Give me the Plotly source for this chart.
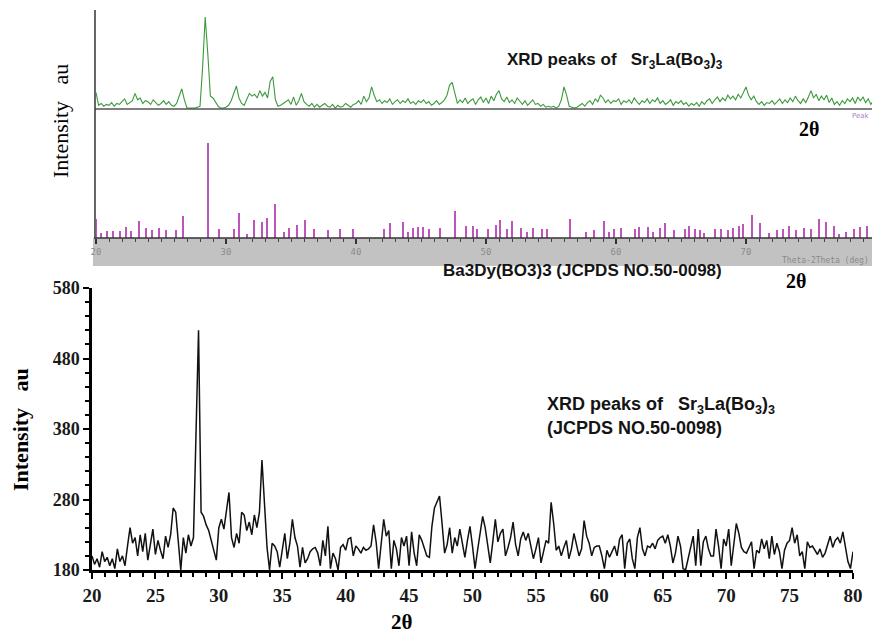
import numpy as np
import plotly.graph_objects as go

# page offset of the plot inside the browser page (default body margin)
OFF = 8
W, H = 880 - OFF, 634 - OFF

# ---------------- data ----------------
# bottom panel: measured XRD pattern (2theta step 0.2 deg)
two_theta = [round(20 + 0.2 * i, 1) for i in range(301)]
intensity = [
    200, 188, 196, 184, 206,
    192, 198, 186, 196, 182,
    210, 192, 200, 186, 214,
    240, 218, 226, 200, 230,
    206, 232, 194, 214, 238,
    202, 222, 208, 196, 228,
    212, 230, 268, 262, 216,
    180, 226, 204, 230, 214,
    226, 360, 520, 262, 256,
    244, 236, 222, 206, 194,
    240, 252, 238, 262, 290,
    226, 212, 232, 218, 262,
    258, 236, 248, 230, 258,
    240, 262, 336, 264, 212,
    180, 218, 214, 206, 184,
    210, 232, 196, 218, 252,
    226, 214, 184, 212, 190,
    196, 206, 210, 212, 204,
    186, 222, 200, 242, 182,
    204, 196, 180, 212, 216,
    208, 224, 226, 200, 214,
    210, 204, 212, 208, 210,
    214, 244, 220, 182, 218,
    252, 228, 236, 182, 222,
    210, 186, 226, 214, 228,
    186, 234, 204, 186, 230,
    222, 212, 200, 198, 242,
    268, 278, 285, 246, 204,
    216, 240, 204, 226, 214,
    238, 218, 198, 222, 242,
    214, 182, 208, 232, 256,
    240, 212, 190, 220, 252,
    220, 232, 238, 200, 212,
    226, 248, 216, 200, 224,
    234, 222, 232, 214, 196,
    210, 226, 190, 206, 222,
    218, 276, 246, 208, 214,
    200, 212, 222, 196, 210,
    232, 216, 200, 210, 250,
    228, 218, 200, 212, 214,
    214, 200, 182, 208, 198,
    206, 214, 200, 224, 230,
    182, 218, 224, 196, 182,
    226, 240, 210, 200, 214,
    212, 218, 210, 222, 226,
    228, 218, 230, 214, 190,
    204, 228, 214, 182, 180,
    196, 214, 228, 186, 238,
    186, 220, 228, 210, 200,
    200, 238, 214, 182, 224,
    214, 238, 186, 220, 246,
    232, 212, 206, 204, 212,
    220, 182, 208, 204, 224,
    210, 222, 196, 228, 202,
    218, 206, 182, 208, 218,
    222, 240, 218, 230, 200,
    206, 182, 220, 212, 214,
    208, 202, 210, 198, 204,
    216, 228, 212, 222, 226,
    218, 234, 210, 192, 182,
    206,
]

# top panel: software peak profile (relative units)
green_theta = [round(20 + 0.2 * i, 1) for i in range(301)]
green_int = [
    18, 4, 6, 3, 5,
    4, 7, 3, 6, 5,
    8, 11, 5, 7, 9,
    17, 10, 12, 6, 9,
    8, 5, 10, 7, 4,
    6, 9, 5, 8, 4,
    3, 6, 14, 22, 10,
    1, 1, 1, 1, 2,
    3, 45, 100, 60, 14,
    12, 8, 3, 1, 1,
    2, 4, 9, 16, 25,
    12, 6, 4, 10, 17,
    14, 16, 12, 20, 14,
    18, 12, 30, 35, 10,
    3, 4, 6, 8, 10,
    5, 13, 4, 9, 17,
    8, 5, 3, 6, 2,
    5, 2, 4, 6, 3,
    2, 5, 1, 4, 2,
    3, 6, 4, 2, 5,
    6, 9, 5, 14, 8,
    12, 24, 15, 8, 10,
    6, 9, 7, 11, 5,
    8, 10, 6, 9, 7,
    11, 6, 8, 5, 9,
    7, 10, 6, 8, 4,
    6, 9, 5, 7, 10,
    15, 26, 29, 18, 6,
    10, 7, 12, 6, 9,
    11, 5, 10, 13, 7,
    12, 6, 14, 9, 16,
    20, 11, 8, 13, 7,
    10, 6, 12, 8, 5,
    9, 4, 7, 10, 5,
    6, 3, 5, 2, 3,
    2, 3, 1, 3, 10,
    24, 15, 3, 2, 1,
    2, 4, 6, 3, 7,
    9, 5, 11, 8, 15,
    12, 7, 10, 6, 9,
    8, 11, 5, 9, 7,
    10, 6, 12, 8, 5,
    9, 7, 11, 6, 10,
    8, 12, 6, 9, 5,
    7, 10, 4, 8, 6,
    9, 5, 7, 3, 6,
    4, 7, 3, 8, 5,
    9, 11, 6, 10, 13,
    8, 12, 9, 15, 11,
    14, 10, 16, 12, 18,
    24, 15, 10, 14, 8,
    5, 8, 4, 7, 6,
    9, 5, 8, 11, 6,
    10, 7, 12, 8, 14,
    9, 6, 11, 7, 13,
    20, 12, 16, 9, 14,
    10, 15, 7, 12, 5,
    8, 4, 9, 6, 11,
    8, 12, 6, 13, 9,
    13, 7, 11, 5, 9,
    4,
]

# reference stick pattern (JCPDS card)
ref_pos = [20.0, 20.4, 20.9, 21.3, 21.9, 22.3, 22.7, 23.3, 23.9, 24.3, 24.9, 25.4,
           26.2, 26.7, 28.6, 29.5, 30.6, 31.0, 31.6, 32.2, 32.8, 33.2, 33.8, 34.5,
           34.9, 35.5, 36.1, 36.8, 37.9, 38.8, 39.8, 42.2, 42.6, 43.6, 44.0, 44.4,
           44.8, 45.2, 45.6, 46.5, 47.6, 48.5, 49.0, 49.3, 50.2, 50.8, 51.1, 51.6,
           52.0, 52.7, 53.2, 53.6, 54.3, 54.7, 56.5, 57.7, 58.3, 59.1, 59.5, 59.9,
           60.4, 61.5, 61.8, 62.5, 62.9, 63.4, 63.8, 64.5, 65.3, 65.6, 66.1, 66.5,
           66.8, 67.6, 68.1, 68.6, 69.0, 69.5, 69.8, 70.5, 71.1, 71.8, 72.4, 72.9,
           73.3, 73.9, 74.5, 75.0, 75.6, 76.2, 76.8, 77.2, 77.7, 78.3, 78.8, 79.3]
ref_int = [20, 5, 7, 7, 7, 12, 7, 18, 11, 8, 11, 8,
           8, 23, 100, 9, 10, 26, 4, 19, 17, 21, 36, 6,
           11, 14, 19, 9, 8, 9, 9, 9, 16, 17, 6, 11,
           12, 12, 10, 11, 29, 13, 13, 9, 10, 14, 19, 9,
           18, 11, 6, 11, 10, 10, 20, 6, 8, 18, 6, 10,
           11, 9, 12, 12, 6, 11, 16, 8, 9, 13, 10, 8,
           5, 10, 10, 8, 11, 13, 15, 24, 16, 5, 8, 9,
           13, 8, 11, 9, 20, 17, 13, 4, 6, 10, 12, 13]

x_ticks_top = [20, 30, 40, 50, 60, 70, 80]
x_ticks_bottom = [20, 25, 30, 35, 40, 45, 50, 55, 60, 65, 70, 75, 80]
y_ticks_bottom = [180, 280, 380, 480, 580]


# ---------------- helpers (screen pixel -> paper fraction) ----------------
def px(x):
    return (x - OFF) / W


def py(y):
    return 1 - (y - OFF) / H


fig = go.Figure()

fig.add_trace(go.Scatter(x=green_theta, y=green_int, mode="lines",
                         line=dict(color="#3c9a3c", width=1.1),
                         xaxis="x", yaxis="y", showlegend=False))
fig.add_trace(go.Bar(x=ref_pos, y=ref_int, width=0.12,
                     marker=dict(color="#bd55bd", line=dict(width=0)),
                     xaxis="x2", yaxis="y2", showlegend=False))
fig.add_trace(go.Scatter(x=two_theta, y=intensity, mode="lines",
                         line=dict(color="#111111", width=1.5),
                         xaxis="x3", yaxis="y3", showlegend=False))

top_xdom = [px(96), px(876)]
serif = "Liberation Serif"
sans = "Liberation Sans"

fig.update_layout(
    width=W, height=H,
    margin=dict(l=0, r=0, t=0, b=0, pad=0, autoexpand=False),
    paper_bgcolor="white", plot_bgcolor="rgba(0,0,0,0)",
    bargap=0,
    xaxis=dict(domain=top_xdom, range=[20, 80], visible=False, anchor="y", automargin=False),
    yaxis=dict(domain=[py(109), py(10)], range=[0, 107.6], visible=False, anchor="x", automargin=False),
    xaxis2=dict(domain=top_xdom, range=[20, 80], anchor="y2", automargin=False,
                tickvals=x_ticks_top, ticks="outside", ticklen=5, tickwidth=1.5,
                tickcolor="#333333", showline=False, showgrid=False, zeroline=False,
                tickfont=dict(family="DejaVu Sans Mono", size=9, color="#8a8a8a"),
                minor=dict(dtick=1, ticks="outside", ticklen=3, tickcolor="#444444", tickwidth=1)),
    yaxis2=dict(domain=[py(238), py(120)], range=[0, 124.6], visible=False, anchor="x2", automargin=False),
    xaxis3=dict(domain=[px(92), px(853)], range=[20, 80], anchor="y3", automargin=False,
                tickvals=x_ticks_bottom, ticks="outside", ticklen=6, tickwidth=2,
                tickcolor="black", showline=True, linecolor="black", linewidth=2.5,
                showgrid=False, zeroline=False,
                tickfont=dict(family=serif, size=19, color="#1a1a1a", weight="bold"),
                minor=dict(dtick=1, ticks="outside", ticklen=4, tickwidth=1.5, tickcolor="black")),
    yaxis3=dict(domain=[py(570), py(288)], range=[180, 580], anchor="x3", automargin=False,
                tickvals=y_ticks_bottom, ticks="outside", ticklen=6, tickwidth=2,
                tickcolor="black", showline=True, linecolor="black", linewidth=2.5,
                showgrid=False, zeroline=False,
                tickfont=dict(family=serif, size=18, color="#1a1a1a", weight="bold"),
                minor=dict(dtick=20, ticks="outside", ticklen=4, tickwidth=1.5, tickcolor="black")),
)

shapes = [
    # grey band under reference sticks
    dict(type="rect", xref="paper", yref="paper", x0=px(93), x1=1, y0=py(266), y1=py(238),
         fillcolor="#c2c2c2", line=dict(width=0), layer="below"),
    # magenta baseline
    dict(type="line", xref="paper", yref="paper", x0=px(94), x1=1, y0=py(238), y1=py(238),
         line=dict(color="#333333", width=1.5)),
    # green baseline
    dict(type="line", xref="paper", yref="paper", x0=px(95), x1=px(878), y0=py(109), y1=py(109),
         line=dict(color="#555555", width=1.5)),
    # left vertical axis of upper plot
    dict(type="line", xref="paper", yref="paper", x0=px(95), x1=px(95), y0=py(238), y1=py(10),
         line=dict(color="#333333", width=1.5)),
]
fig.update_layout(shapes=shapes)

ann = []


def text(x, y, s, size, family, color="black", angle=0, xanchor="center", bold=False):
    if bold:
        s = "<b>" + s + "</b>"
    ann.append(dict(x=px(x), y=py(y), xref="paper", yref="paper", text=s, showarrow=False,
                    font=dict(family=family, size=size, color=color), textangle=angle,
                    xanchor=xanchor, yanchor="middle"))


text(60, 121, "Intensity &nbsp;&nbsp;au", 22, serif, angle=-90)
text(20, 430, "Intensity &nbsp;&nbsp;au", 22, serif, angle=-90, bold=True)
text(505, 61, "XRD peaks of &nbsp;&nbsp;Sr<sub>3</sub>La(Bo<sub>3</sub>)<sub>3</sub>", 17, sans,
     color="#141414", xanchor="left", bold=True)
text(809, 129, "2θ", 20, serif, bold=True)
text(861, 116, "Peak", 7, "DejaVu Sans", color="#b080c0")
text(825, 261, "Theta-2Theta (deg)", 8, "DejaVu Sans Mono", color="#8a8a8a")
text(441, 270, "Ba3Dy(BO3)3 (JCPDS NO.50-0098)", 17, sans, color="#141414", xanchor="left", bold=True)
text(796, 281, "2θ", 20, serif, bold=True)
text(545, 405, "XRD peaks of &nbsp;&nbsp;Sr<sub>3</sub>La(Bo<sub>3</sub>)<sub>3</sub>", 18, sans,
     color="#141414", xanchor="left", bold=True)
text(545, 428, "(JCPDS NO.50-0098)", 18, sans, color="#141414", xanchor="left", bold=True)
text(402, 622, "2θ", 21, serif, bold=True)

fig.update_layout(annotations=ann)

fig.write_html("out.html")
